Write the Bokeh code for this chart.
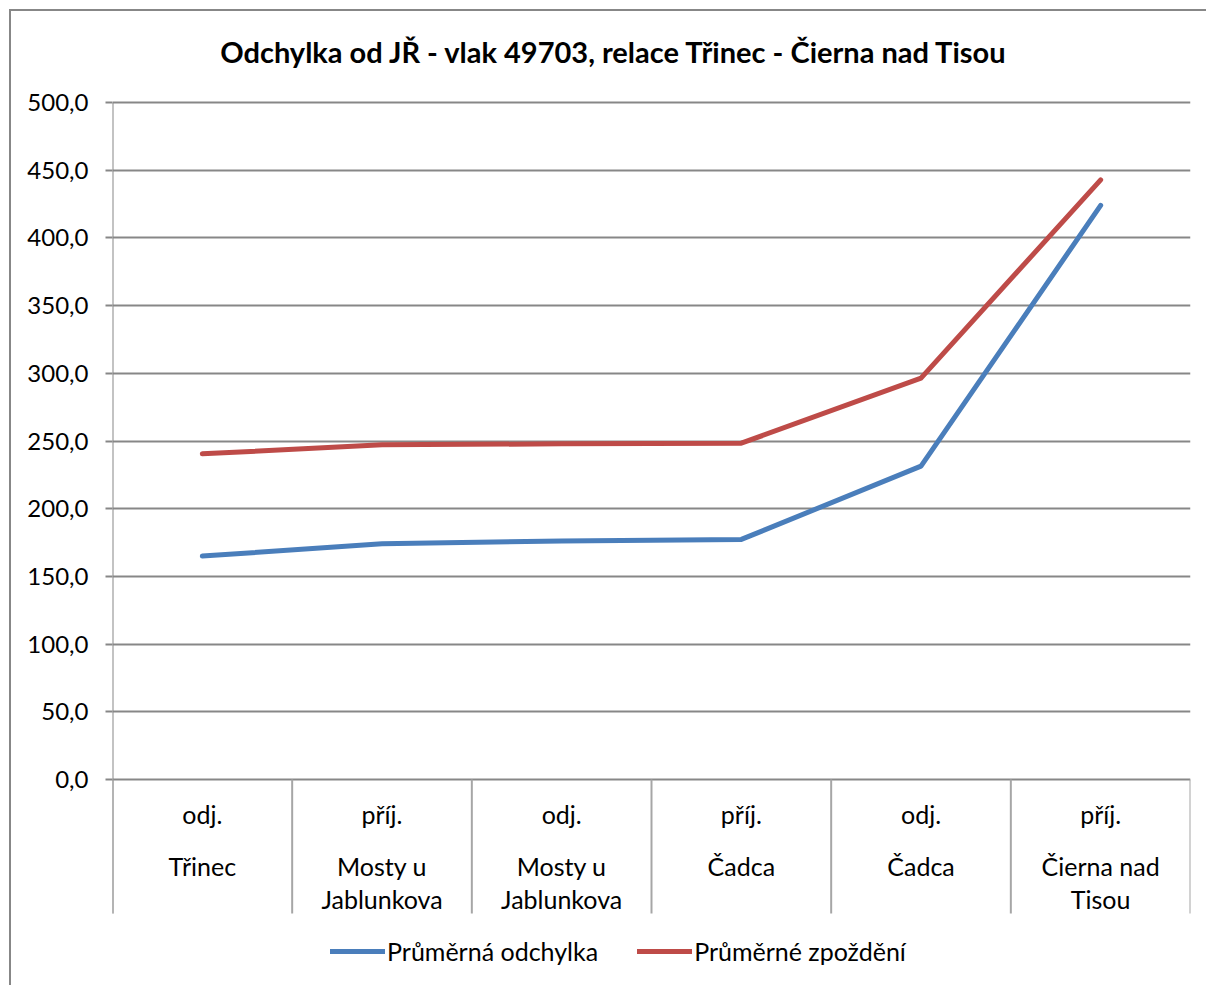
from bokeh.plotting import figure
from bokeh.models import Legend, LegendItem, FixedTicker, Range1d, CustomJSTickFormatter
from bokeh.core.properties import value
from bokeh.embed import file_html
from bokeh.resources import INLINE

title = "Odchylka od JŘ - vlak 49703, relace Třinec - Čierna nad Tisou"
event = ["odj.", "příj.", "odj.", "příj.", "odj.", "příj."]
station_l1 = ["Třinec", "Mosty u", "Mosty u", "Čadca", "Čadca", "Čierna nad"]
station_l2 = ["", "Jablunkova", "Jablunkova", "", "", "Tisou"]
odchylka = [165.0, 174.1, 176.1, 177.3, 231.4, 424.0]
zpozdeni = [240.5, 247.2, 247.9, 248.4, 296.4, 442.9]
y_ticks = [0, 50, 100, 150, 200, 250, 300, 350, 400, 450, 500]
series_names = ["Průměrná odchylka", "Průměrné zpoždění"]

FONT = "Lato"
GRAY = "#878787"
BLUE = "#4a7ebb"
RED = "#be4b48"

# page geometry (pixels in the screenshot)
ORIGIN = 11
FRAME_L, FRAME_R = 112, 1190
Y0_PIX, Y500_PIX = 779, 102
SEP_BOTTOM = 913
W, H = 1208 - ORIGIN, 987 - ORIGIN
N = len(event)

px_per_unit = (Y0_PIX - Y500_PIX) / 500.0
def ypix(yp):
    return (Y0_PIX - yp) / px_per_unit
def xpix(xp):
    return (xp - FRAME_L) / ((FRAME_R - FRAME_L) / N)

p = figure(width=W, height=H, output_backend="svg", toolbar_location=None,
           x_range=Range1d(0, N), y_range=Range1d(ypix(ORIGIN + H), ypix(ORIGIN)),
           x_axis_location=None,
           min_border_left=FRAME_L - ORIGIN, min_border_top=0,
           min_border_right=ORIGIN + W - FRAME_R, min_border_bottom=0)
p.styles = {"border-left": "2px solid #878787", "border-top": "2px solid #878787",
            "margin-left": "9px", "margin-top": "9px"}
p.outline_line_color = None
p.background_fill_color = "white"
p.border_fill_color = "white"

# y axis
p.yaxis.ticker = FixedTicker(ticks=y_ticks)
p.yaxis.formatter = CustomJSTickFormatter(code="return tick.toFixed(1).replace('.', ',');")
p.yaxis.axis_line_color = None
p.yaxis.major_tick_line_color = GRAY
p.yaxis.major_tick_line_width = 2
p.yaxis.major_tick_out = 7
p.yaxis.major_tick_in = 0
p.yaxis.minor_tick_line_color = None
p.yaxis.major_label_standoff = 17
p.yaxis.major_label_text_font = FONT
p.yaxis.major_label_text_font_size = "24px"
p.yaxis.major_label_text_color = "black"
p.ygrid.grid_line_color = GRAY
p.ygrid.grid_line_width = 2
p.xgrid.grid_line_color = None

# axis line + category separators
p.segment(x0=[0], y0=[ypix(Y500_PIX)], x1=[0], y1=[ypix(SEP_BOTTOM)],
          line_color=GRAY, line_width=2)
seps = list(range(N + 1))
p.segment(x0=seps, y0=[0] * len(seps), x1=seps, y1=[ypix(SEP_BOTTOM)] * len(seps),
          line_color="#a6a6a6", line_width=2)

xs = [i + 0.5 for i in range(N)]
r1 = p.line(xs, odchylka, line_color=BLUE, line_width=5, line_cap="round", line_join="round")
r2 = p.line(xs, zpozdeni, line_color=RED, line_width=5, line_cap="round", line_join="round")

lab_kw = dict(text_align="center", text_baseline="middle", text_font=value(FONT),
              text_font_size="25px", text_color="black")
p.text(x=xs, y=[ypix(813)] * N, text=event, **lab_kw)
p.text(x=xs, y=[ypix(865)] * N, text=station_l1, **lab_kw)
p.text(x=xs, y=[ypix(898)] * N, text=station_l2, **lab_kw)

p.text(x=[xpix(614)], y=[ypix(51)], text=[title], text_align="center", text_baseline="middle",
       text_font=value(FONT), text_font_size="29px", text_font_style="bold",
       text_color="black")

legend = Legend(items=[LegendItem(label=series_names[0], renderers=[r1]),
                       LegendItem(label=series_names[1], renderers=[r2])],
                orientation="horizontal", location=(330 - FRAME_L, (ORIGIN + H) - 966),
                glyph_width=55, glyph_height=26, label_height=26, label_standoff=2,
                spacing=39, padding=0, margin=0, border_line_color=None,
                background_fill_alpha=0, label_text_font=FONT, label_text_font_size="25px",
                label_text_color="black", label_text_baseline="middle")
p.add_layout(legend, "center")

open("out.html", "w").write(file_html(p, INLINE))
